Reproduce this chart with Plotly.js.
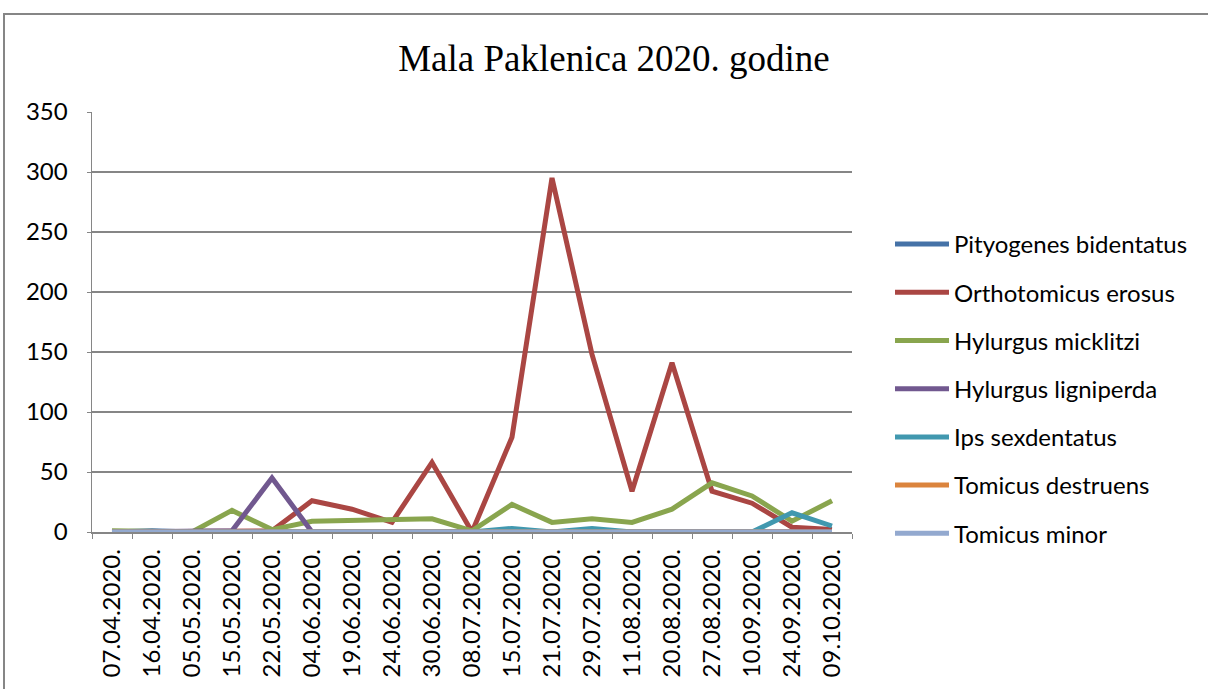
<!DOCTYPE html>
<html>
<head>
<meta charset="utf-8">
<script src="https://cdn.plot.ly/plotly-3.0.1.min.js"></script>
<style>
html,body{margin:0;padding:0;background:#fff;}
#chart{width:1208px;height:689px;}
</style>
</head>
<body>
<div id="chart"></div>
<script>
const dates = ["07.04.2020.","16.04.2020.","05.05.2020.","15.05.2020.","22.05.2020.","04.06.2020.","19.06.2020.","24.06.2020.","30.06.2020.","08.07.2020.","15.07.2020.","21.07.2020.","29.07.2020.","11.08.2020.","20.08.2020.","27.08.2020.","10.09.2020.","24.09.2020.","09.10.2020."];
const pityogenesBidentatus = [0,1,0,0,0,0,0,0,0,0,0,0,0,0,0,0,0,0,0];
const orthotomicusErosus   = [0,0,0,1,1,26,19,8,58,0,79,295,148,34,141,34,24,4,2];
const hylurgusMicklitzi    = [1,0,0,18,2,9,10,11,11,1,23,8,11,8,19,41,30,9,26];
const hylurgusLigniperda   = [0,0,0,1,45,0,0,0,0,0,0,0,0,0,1,0,0,0,0];
const ipsSexdentatus       = [0,0,0,0,0,0,0,1,1,0,3,0,3,0,0,0,0,16,5];
const tomicusDestruens     = [0,0,0,0,0,0,0,0,0,0,0,0,0,0,0,0,0,0,0];
const tomicusMinor         = [0,0,0,0,0,0,0,0,0,0,0,0,0,0,0,0,0,0,0];

const seriesNames = ["Pityogenes bidentatus","Orthotomicus erosus","Hylurgus micklitzi","Hylurgus ligniperda","Ips sexdentatus","Tomicus destruens","Tomicus minor"];
const seriesValues = [pityogenesBidentatus, orthotomicusErosus, hylurgusMicklitzi, hylurgusLigniperda, ipsSexdentatus, tomicusDestruens, tomicusMinor];
const colors = ["#4572A7","#AA4643","#89A54E","#71588F","#4198AF","#DB843D","#93A9CF"];
const yTicks = [0,50,100,150,200,250,300,350];

const traces = seriesNames.map((n,i)=>({
  type:"scatter", mode:"lines", name:n,
  x: dates, y: seriesValues[i],
  line:{color:colors[i], width:5},
  legendgroup:"g"+i,
  hoverinfo:"x+y+name"
}));

const tickFont = {family:"Lato, Noto Sans, sans-serif", size:24, color:"#000"};

const layout = {
  width:1208, height:689,
  margin:{l:92, r:356, t:112, b:157},
  paper_bgcolor:"#fff", plot_bgcolor:"#fff",
  title:{text:"Mala Paklenica 2020. godine", font:{family:"Liberation Serif, Times New Roman, serif", size:37, color:"#000"}, x:614/1208, xref:"container", xanchor:"center", y:1-58/689, yref:"container", yanchor:"middle"},
  showlegend:true,
  legend:{x:(890-92)/760, xanchor:"left", y:(532-244+22)/420, yanchor:"top", font:tickFont, tracegroupgap:14, bgcolor:"rgba(0,0,0,0)", itemwidth:54, traceorder:"grouped"},
  xaxis:{type:"category", range:[-0.5,18.5], tickangle:-90, tickfont:tickFont, ticklabelstandoff:6,
    showline:true, linecolor:"#868686", linewidth:1.5, ticks:"outside", ticklen:5, tickcolor:"#868686", tickson:"boundaries", showgrid:false, zeroline:false, fixedrange:true},
  yaxis:{range:[0,350], tickvals:yTicks, ticktext:yTicks.map(String), tickfont:tickFont, ticklabelstandoff:14,
    showline:true, linecolor:"#868686", linewidth:1.5, ticks:"outside", ticklen:4, tickcolor:"#868686", showgrid:true, gridcolor:"#868686", gridwidth:1.5, zeroline:false, fixedrange:true},
  shapes:[{type:"rect", xref:"paper", yref:"paper", x0:(4-92)/760, x1:1.6, y0:-0.6, y1:(532-14)/420, line:{color:"#868686", width:2}, fillcolor:"rgba(0,0,0,0)", layer:"below"}]
};

Plotly.newPlot("chart", traces, layout, {displayModeBar:false, staticPlot:true});
</script>
</body>
</html>
